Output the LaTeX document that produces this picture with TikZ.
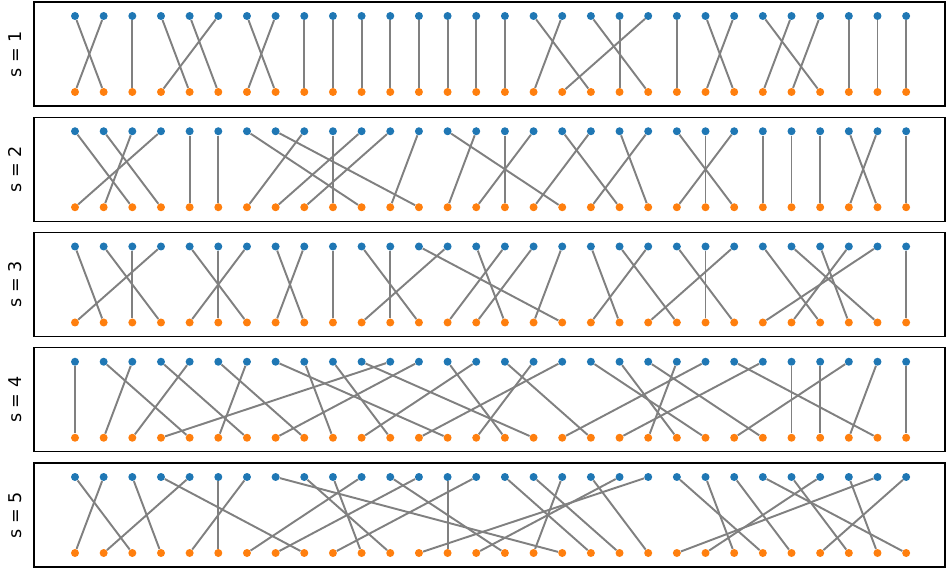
\documentclass[tikz,border=0pt]{standalone}
\usepackage{fontspec}
\setmainfont{DejaVu Sans}
\usepackage{xcolor}

\definecolor{tabblue}{HTML}{1F77B4}
\definecolor{taborange}{HTML}{FF7F0E}
\definecolor{linkgray}{HTML}{808080}

% where top dot i goes in each panel
\def\permA{1,0,2,4,5,3,7,6,8,9,10,11,12,13,14,15,18,16,20,19,17,21,23,22,26,24,25,27,28,29}
\def\permB{2,3,1,0,4,5,10,12,6,9,7,8,11,17,13,15,14,19,16,20,18,23,22,21,24,25,26,28,27,29}
\def\permC{1,3,2,0,6,5,4,8,7,9,12,11,17,10,15,13,14,16,19,21,18,23,22,20,26,28,27,25,24,29}
\def\permD{0,4,1,6,2,8,5,13,9,11,16,3,7,15,10,18,14,12,22,21,24,20,17,28,19,25,26,23,27,29}
\def\permE{2,0,3,8,1,5,4,17,11,10,6,15,7,13,9,18,19,16,20,14,12,24,23,25,29,27,22,28,21,26}

\begin{document}
\begin{tikzpicture}[
                x=0.02cm, y=-0.02cm,
                panel/.style={draw=black, line width=0.6pt},
                topdot/.style={circle, fill=tabblue, inner sep=0pt, minimum size=0.16cm},
                botdot/.style={circle, fill=taborange, inner sep=0pt, minimum size=0.16cm},
                link/.style={draw=linkgray, line width=1.1pt},
                panellabel/.style={rotate=90, font=\fontsize{10}{12}\selectfont},
            ]

            \useasboundingbox (0,0) rectangle (946,570);

            \foreach \s/\perm in {1/\permA, 2/\permB, 3/\permC, 4/\permD, 5/\permE} {
                \pgfmathsetmacro{\ytop}{2+(\s-1)*115.25}
                \edef\plist{\perm}

                % Frame and label
                \draw[panel] (34,\ytop) rectangle (945,\ytop+104);
                \node[panellabel] (lab\s) at (15,\ytop+52) {s = \s};

                % Dots
                \foreach \j [count=\i from 0] in \plist {
                    \node[topdot] (t\s-\i) at ({75+28.66*\i},\ytop+14) {};
                    \node[botdot] (b\s-\i) at ({75+28.66*\i},\ytop+90) {};
                }

                % Links
                \foreach \j [count=\i from 0] in \plist {
                    \draw[link] (t\s-\i) -- (b\s-\j);
                }
            }

            \end{tikzpicture}
\end{document}
